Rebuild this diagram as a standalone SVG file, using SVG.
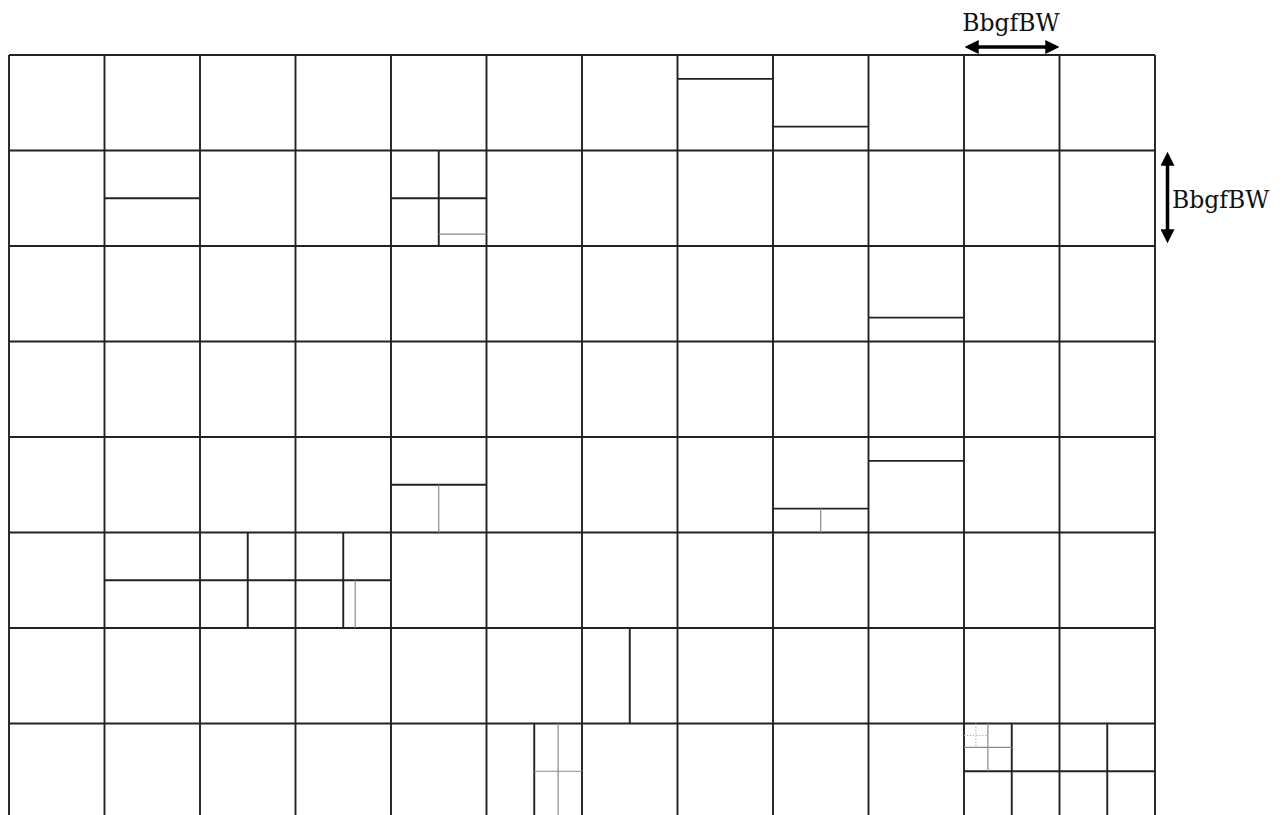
<svg xmlns="http://www.w3.org/2000/svg" width="1287" height="815" viewBox="0 0 1287 815">
<defs>
<style>
.g{stroke:#222;stroke-width:1.9;fill:none}
.t{stroke:#8a8a8a;stroke-width:1.2;fill:none}
.d{stroke:#b0b0b0;stroke-width:1;stroke-dasharray:1.5 1.5;fill:none}
.a{stroke:#000;stroke-width:3.5;fill:none}
.lbl{font-family:"DejaVu Serif","Liberation Serif",serif;font-size:23.5px;fill:#111}
</style>
<marker id="ah" markerWidth="4" markerHeight="4" refX="2.2" refY="2" orient="auto-start-reverse" markerUnits="strokeWidth">
<path d="M0,0 L4,2 L0,4 Z" fill="#000"/>
</marker>
</defs>
<rect width="1287" height="815" fill="#fff"/>
<g id="grid">
<path class="g" d="M9,55H1155M9,150.5H1155M9,246H1155M9,341.5H1155M9,437H1155M9,532.5H1155M9,628H1155M9,723.5H1155"/>
<path class="g" d="M9,55V815M104.5,55V815M200,55V815M295.5,55V815M391,55V815M486.5,55V815M582,55V815M677.5,55V815M773,55V815M868.5,55V815M964,55V815M1059.5,55V815M1155,55V815"/>
</g>
<g id="subdivisions">
<path class="g" d="M677.5,78.9H773M773,126.6H868.5M104.5,198.25H200M438.75,150.5V246M391,198.25H486.5M868.5,317.6H964M391,484.75H486.5M773,508.6H868.5M868.5,460.9H964M104.5,580.25H391M247.75,532.5V628M343.25,532.5V628M629.75,628V723.5M534.25,723.5V815M964,771.25H1155M1011.75,723.5V815M1107.25,723.5V815"/>
<path class="t" d="M438.75,234.1H486.5M438.75,484.75V532.5M820.75,508.6V532.5M355.2,580.25V628M558.1,723.5V815M534.25,771.25H582M987.9,723.5V771.25M964,747.4H1011.75"/>
<path class="d" d="M975.9,723.5V747.4M964,735.4H987.9"/>
</g>
<g id="connectors">
<line class="a" x1="971" y1="47" x2="1053" y2="47" marker-start="url(#ah)" marker-end="url(#ah)"/>
<line class="a" x1="1167.5" y1="158" x2="1167.5" y2="237" marker-start="url(#ah)" marker-end="url(#ah)"/>
</g>
<g id="labels">
<text class="lbl" x="1011" y="31" text-anchor="middle">BbgfBW</text>
<text class="lbl" x="1172" y="207.5">BbgfBW</text>
</g>
</svg>
